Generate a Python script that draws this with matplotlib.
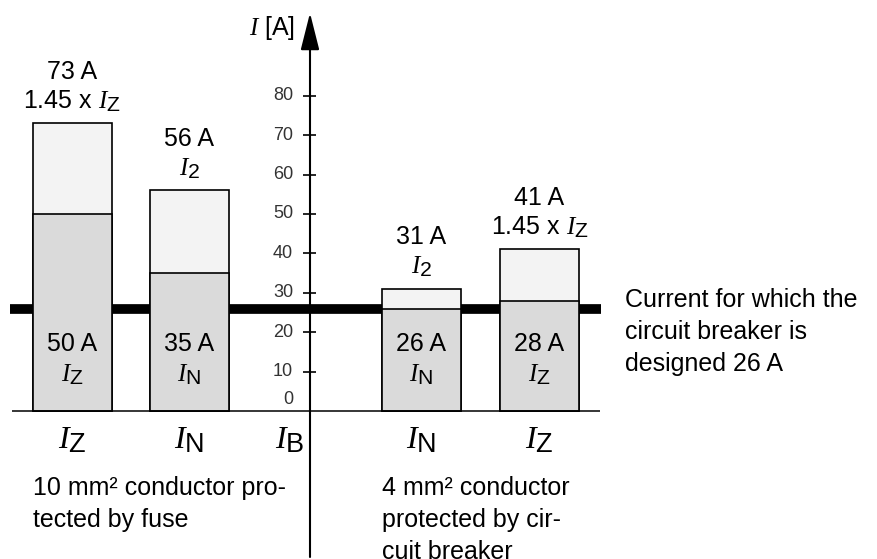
import matplotlib
matplotlib.use("Agg")
import matplotlib.pyplot as plt
import matplotlib._mathtext as mt

# 字体设置：正文无衬线，符号 I 用斜体衬线
plt.rcParams['font.family'] = ['Liberation Sans', 'DejaVu Sans']
plt.rcParams['mathtext.fontset'] = 'custom'
plt.rcParams['mathtext.rm'] = 'Liberation Sans'
plt.rcParams['mathtext.it'] = 'Liberation Serif:italic'
# 下标稍大一点，接近原图
if hasattr(mt, 'SHRINK_FACTOR'):
    mt.SHRINK_FACTOR = 0.85

# ======================
# 数据
# ======================
lower_vals = [50, 35, 26, 28]          # 下段 (I_Z / I_N)
upper_vals = [73, 56, 31, 41]          # 上段 (1.45 x I_Z / I_2)
lower_syms = [r'$I_\mathrm{Z}$', r'$I_\mathrm{N}$', r'$I_\mathrm{N}$', r'$I_\mathrm{Z}$']
upper_syms = [r'1.45 x $I_\mathrm{Z}$', r'$I_\mathrm{2}$', r'$I_\mathrm{2}$', r'1.45 x $I_\mathrm{Z}$']
design_current = 26
y_ticks = [0, 10, 20, 30, 40, 50, 60, 70, 80]
bottom_syms = [r'$I_\mathrm{Z}$', r'$I_\mathrm{N}$', r'$I_\mathrm{B}$', r'$I_\mathrm{N}$', r'$I_\mathrm{Z}$']
group_texts = ['10 mm\u00b2 conductor pro-\ntected by fuse',
               '4 mm\u00b2 conductor\nprotected by cir-\ncuit breaker']
side_text = 'Current for which the\ncircuit breaker is\ndesigned 26 A'

# ======================
# 布局 (x 方向按像素排布)
# ======================
bar_x = [72, 189.5, 421.5, 539.5]
bar_w = 79
axis_x = 310
bottom_x = [72, 189.5, 290, 421.5, 539.5]
group_x = [33, 382]
PX_PER_A = 3.94
BASE_PX = 411
FS = 18


def amp(px):
    # 像素行 -> 电流值 (仅用于布局)
    return (BASE_PX - px) / PX_PER_A


fig = plt.figure(figsize=(8.77, 5.59), dpi=100)
ax = fig.add_axes([0, 0, 1, 1])
ax.set_xlim(0, 877)
ax.set_ylim(amp(559), amp(0))
ax.axis('off')

upper_c = '#f3f3f3'
lower_c = '#dadada'

# 设计电流粗线 (在柱子后面)
ax.hlines(design_current, 10, 601, color='black', lw=7, zorder=2)

# 柱子
ax.bar(bar_x, upper_vals, width=bar_w, color=upper_c, edgecolor='black', lw=1.2, zorder=3)
ax.bar(bar_x, lower_vals, width=bar_w, color=lower_c, edgecolor='black', lw=1.2, zorder=4)

# 基线
ax.hlines(0, 12, 600, color='black', lw=1.1, zorder=5)

# 纵轴 + 箭头
ax.annotate('', xy=(axis_x, amp(13)), xytext=(axis_x, amp(557)),
            arrowprops=dict(arrowstyle='-|>,head_length=2.3,head_width=0.58',
                            mutation_scale=10, lw=1.5, color='black',
                            shrinkA=0, shrinkB=0), zorder=6)
ax.text(295, amp(35), r'$I$ [A]', ha='right', va='baseline', fontsize=FS)

# 刻度
ax.hlines(y_ticks[1:], 303, 316, color='black', lw=1.2, zorder=6)
for t in y_ticks:
    dy = 8 if t == 0 else 0
    ax.annotate(str(t), xy=(293, t), xytext=(0, dy), textcoords='offset points',
                ha='right', va='center', fontsize=13, color='#333333')

# 柱上标签
for x, top, sym in zip(bar_x, upper_vals, upper_syms):
    ax.annotate(f'{top} A', xy=(x, top), xytext=(0, 32), textcoords='offset points',
                ha='center', va='baseline', fontsize=FS, zorder=7)
    ax.annotate(sym, xy=(x, top), xytext=(0, 11), textcoords='offset points',
                ha='center', va='baseline', fontsize=FS, zorder=7)

# 柱内标签
for x, low, sym in zip(bar_x, lower_vals, lower_syms):
    ax.annotate(f'{low} A', xy=(x, 0), xytext=(0, 43), textcoords='offset points',
                ha='center', va='baseline', fontsize=FS, zorder=7)
    ax.annotate(sym, xy=(x, 0), xytext=(0, 21), textcoords='offset points',
                ha='center', va='baseline', fontsize=FS, zorder=7)

# 底部符号
for x, sym in zip(bottom_x, bottom_syms):
    ax.annotate(sym, xy=(x, 0), xytext=(0, -27), textcoords='offset points',
                ha='center', va='baseline', fontsize=23)

# 分组说明
for x, txt in zip(group_x, group_texts):
    ax.annotate(txt, xy=(x, 0), xytext=(0, -47), textcoords='offset points',
                ha='left', va='top', fontsize=FS, linespacing=1.42)

# 右侧说明
ax.annotate(side_text, xy=(625, design_current), xytext=(0, 15), textcoords='offset points',
            ha='left', va='top', fontsize=FS, linespacing=1.42)

fig.savefig('out.png', dpi=100)
